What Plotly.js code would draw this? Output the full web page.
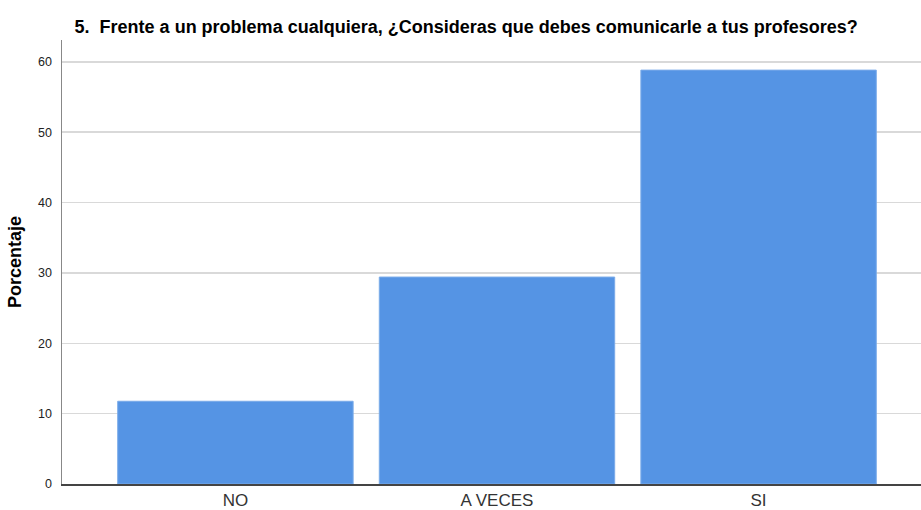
<!DOCTYPE html>
<html><head><meta charset="utf-8">
<script src="https://cdn.plot.ly/plotly-3.0.1.min.js"></script>
<style>body{margin:0;background:#fff}#c{width:921px;height:510px}</style>
</head><body><div id="c"></div>
<script>
const categories = ["NO", "A VECES", "SI"];
const percentages = [11.76, 29.41, 58.82];
const yTicks = [0, 10, 20, 30, 40, 50, 60];
const titleText = "5.  Frente a un problema cualquiera, ¿Consideras que debes comunicarle a tus profesores?";
const yTitle = "Porcentaje";

Plotly.newPlot("c", [{
  type: "bar",
  x: categories,
  y: percentages,
  marker: {color: "#5594e4", line: {color: "#7aabe9", width: 1}},
  hoverinfo: "x+y"
}], {
  width: 921, height: 510,
  margin: {l: 62, r: 0, t: 40, b: 26},
  paper_bgcolor: "#fff", plot_bgcolor: "#fff",
  bargap: 0.1,
  showlegend: false,
  font: {family: "Liberation Sans, Arial, sans-serif", color: "#222"},
  title: {text: "<b>" + titleText + "</b>", x: 0.081, xanchor: "left", y: 0.947, yanchor: "middle",
          font: {size: 18, color: "#000"}},
  xaxis: {type: "category", range: [-0.663, 2.621], showgrid: false, ticks: "",
          tickfont: {size: 17, color: "#333"}, showline: true, linecolor: "#444", linewidth: 1.5,
          zeroline: false, fixedrange: true, ticklabelstandoff: 0},
  yaxis: {range: [0, 63.1], tickvals: yTicks, ticktext: yTicks.map(String), ticks: "",
          tickfont: {size: 12.5, color: "#222"}, showgrid: true, gridcolor: "#d9d9d9", gridwidth: 1.5,
          showline: true, linecolor: "#888", linewidth: 1.5, zeroline: false, ticklabelstandoff: 6,
          title: {text: "<b>" + yTitle + "</b>", font: {size: 18, color: "#000"}, standoff: 12}}
}, {displayModeBar: false, staticPlot: true});
</script></body></html>
